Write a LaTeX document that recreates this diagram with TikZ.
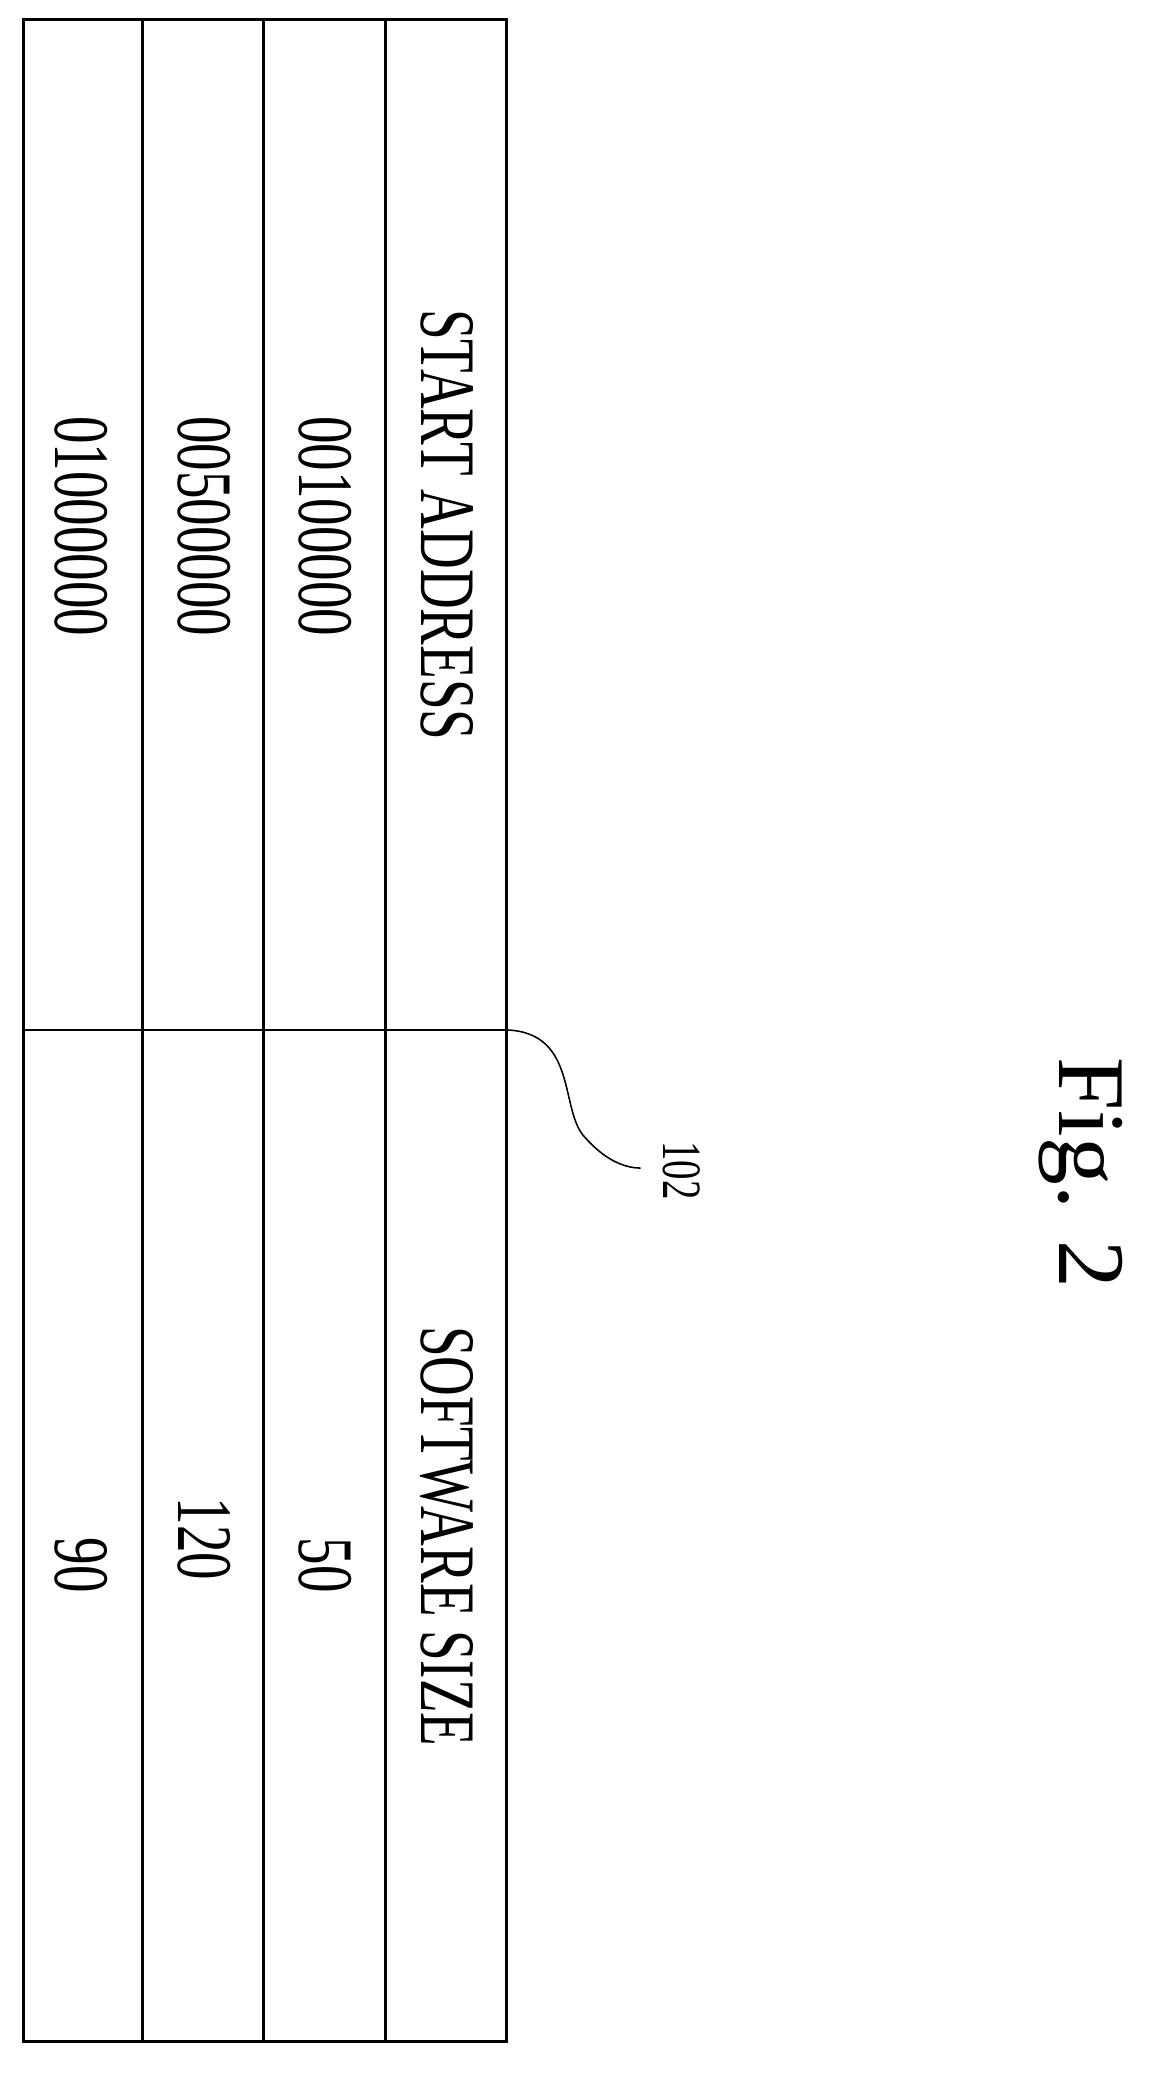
\documentclass[tikz,border=0pt]{standalone}
\usepackage{fontspec}
\setmainfont{Liberation Serif}
\newfontfamily\narrowfont[FakeStretch=0.7]{Liberation Serif}
\begin{document}
\begin{tikzpicture}[x=0.03cm,y=-0.03cm]
\tikzstyle{cell} = [rotate=-90, font=\narrowfont\fontsize{51}{51}\selectfont, inner sep=0pt]
\useasboundingbox (0,0) rectangle (880,1576);
% table frame and column lines
\draw[line width=2pt] (18,15) rectangle (385,1552);
\foreach \x in {108,200,293}
    \draw[line width=2pt] (\x,15) -- (\x,1552);
\draw[line width=1.2pt] (18,783) -- (385,783);
% column heads and entries
\node[cell] (head1) at (340,399) {START ADDRESS};
\node[cell] (head2) at (340,1168) {SOFTWARE SIZE};
\node[cell] (a1) at (247,400) {00100000};
\node[cell] (a2) at (155,400) {00500000};
\node[cell] (a3) at (62,400) {01000000};
\node[cell] (s1) at (247,1190) {50};
\node[cell] (s2) at (155,1170) {120};
\node[cell] (s3) at (62,1190) {90};
% reference label
\coordinate (tip) at (385,783);
\node[rotate=-90, font=\narrowfont\fontsize{36}{36}\selectfont, inner sep=0pt] (ref) at (518,890) {102};
\draw[line width=1pt] (tip) .. controls (440,785) and (425,845) .. (445,865) .. controls (460,882) and (475,888) .. (487,888);
\node[rotate=-90, font=\fontsize{62}{62}\selectfont, inner sep=0pt] (fig) at (822,892) {Fig. 2};
\end{tikzpicture}
\end{document}
